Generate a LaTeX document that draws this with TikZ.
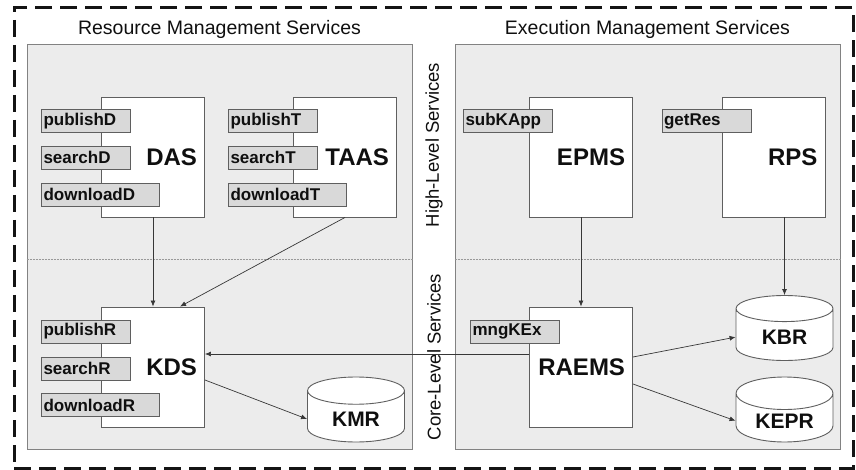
\documentclass[tikz,border=0pt]{standalone}
\usepackage{fontspec}
\setmainfont{Liberation Sans}
\usetikzlibrary{shapes.geometric, arrows.meta, positioning, calc}
\definecolor{smframe}{RGB}{20,20,20}
\definecolor{smpanel}{RGB}{236,236,236}
\definecolor{smpanelline}{RGB}{130,130,130}
\definecolor{smbox}{RGB}{95,95,95}
\definecolor{smtab}{RGB}{217,217,217}
\definecolor{smlink}{RGB}{55,55,55}
\definecolor{smtext}{RGB}{15,15,15}
\tikzset{
  frame/.style      = {rectangle, draw=smframe, line width=3pt, dash pattern=on 17pt off 8pt,
                       minimum width=839pt, minimum height=460pt, inner sep=0pt},
  panel/.style      = {rectangle, draw=smpanelline, line width=0.8pt, fill=smpanel,
                       minimum width=385pt, minimum height=405pt, inner sep=0pt},
  paneltitle/.style = {font=\fontsize{19.5}{21}\selectfont, text=smtext, inner sep=0pt},
  layer/.style      = {font=\fontsize{18.5}{20}\selectfont, text=smtext, rotate=90, inner sep=0pt},
  divider/.style    = {draw=gray!80, line width=0.5pt, densely dotted},
  service/.style    = {rectangle, draw=smbox, line width=0.9pt, fill=white, text=smtext,
                       text width=88pt, align=right, inner xsep=7.5pt, minimum height=120pt,
                       font=\bfseries\fontsize{24}{26}\selectfont},
  iface/.style      = {rectangle, draw=smbox, line width=0.9pt, fill=smtab, text=smtext,
                       text width=85pt, align=left, inner xsep=2pt, inner ysep=0pt,
                       minimum height=23pt, anchor=west,
                       font=\bfseries\fontsize{17}{18}\selectfont},
  wideiface/.style  = {iface, text width=114pt},
  repo/.style       = {cylinder, shape border rotate=90, aspect=0.5, draw=smbox,
                       line width=0.9pt, fill=white, text=smtext, anchor=shape center,
                       minimum width=97pt, minimum height=65pt,
                       font=\bfseries\fontsize{21}{23}\selectfont},
  link/.style       = {-{Latex[length=6pt, width=5pt]}, draw=smlink, line width=0.7pt},
}

\begin{document}
\begin{tikzpicture}[x=1pt, y=-1pt]
\useasboundingbox (0,0) rectangle (856,470);

% ---------- Frame and the two service groups ----------
\node[frame] (frame) at (433.5,238) {};
\node[panel] (lpanel) at (219.5,246.5) {};
\node[panel] (rpanel) at (647.5,246.5) {};
\node[paneltitle, above=5pt of lpanel] (ltitle) {Resource Management Services};
\node[paneltitle, above=5pt of rpanel] (rtitle) {Execution Management Services};

% high-level / core-level split
\coordinate (split) at (0,259);
\draw[divider] (lpanel.west |- split) -- (lpanel.east |- split);
\draw[divider] (rpanel.west |- split) -- (rpanel.east |- split);
\node[layer] (highlbl) at (434,145) {High-Level Services};
\node[layer] (corelbl) at (434,357) {Core-Level Services};

% ---------- Resource management ----------
\node[service] (das)  at (153,157) {DAS};
\node[service] (taas) at (345,157) {TAAS};
\node[service] (kds)  at (153,367) {KDS};
\node[repo]    (kmr)  at (356,409.5) {KMR};

\node[iface]     (pubd)  at ([shift={(-60,24.5)}]das.north west) {publishD};
\node[iface]     (srchd) at ([shift={(-60,61)}]das.north west) {searchD};
\node[wideiface] (dld)   at ([shift={(-60,98)}]das.north west) {downloadD};

\node[iface]     (pubt)  at ([shift={(-65,24.5)}]taas.north west) {publishT};
\node[iface]     (srcht) at ([shift={(-65,61)}]taas.north west) {searchT};
\node[wideiface] (dlt)   at ([shift={(-65,98)}]taas.north west) {downloadT};

\node[iface]     (pubr)  at ([shift={(-60,25)}]kds.north west) {publishR};
\node[iface]     (srchr) at ([shift={(-60,62)}]kds.north west) {searchR};
\node[wideiface] (dlr)   at ([shift={(-60,98.5)}]kds.north west) {downloadR};

% ---------- Execution management ----------
\node[service] (epms)  at (581,157) {EPMS};
\node[service] (rps)   at (773.5,157) {RPS};
\node[service] (raems) at (581,367) {RAEMS};
\node[repo]    (kbr)   at (784.5,328) {KBR};
\node[repo]    (kepr)  at (784.5,409.5) {KEPR};

\node[iface] (subk) at ([shift={(-66,24.5)}]epms.north west) {subKApp};
\node[iface] (getr) at ([shift={(-60,24.5)}]rps.north west) {getRes};
\node[iface] (mngk) at ([shift={(-59,25)}]raems.north west) {mngKEx};

% ---------- Links ----------
\draw[link] (das) -- (kds);
\draw[link] (taas.south) -- ([xshift=27pt]kds.north);
\draw[link] ([yshift=13pt]raems.west) -- ([yshift=13pt]kds.east);
\draw[link] ([yshift=-13pt]kds.east) -- (kmr.west);
\draw[link] (epms) -- (raems);
\draw[link] (rps.south -| kbr.north) -- (kbr.north);
\draw[link] ([yshift=10pt]raems.east) -- (kbr.west);
\draw[link] ([yshift=-17pt]raems.east) -- (kepr.west);

\end{tikzpicture}
\end{document}
